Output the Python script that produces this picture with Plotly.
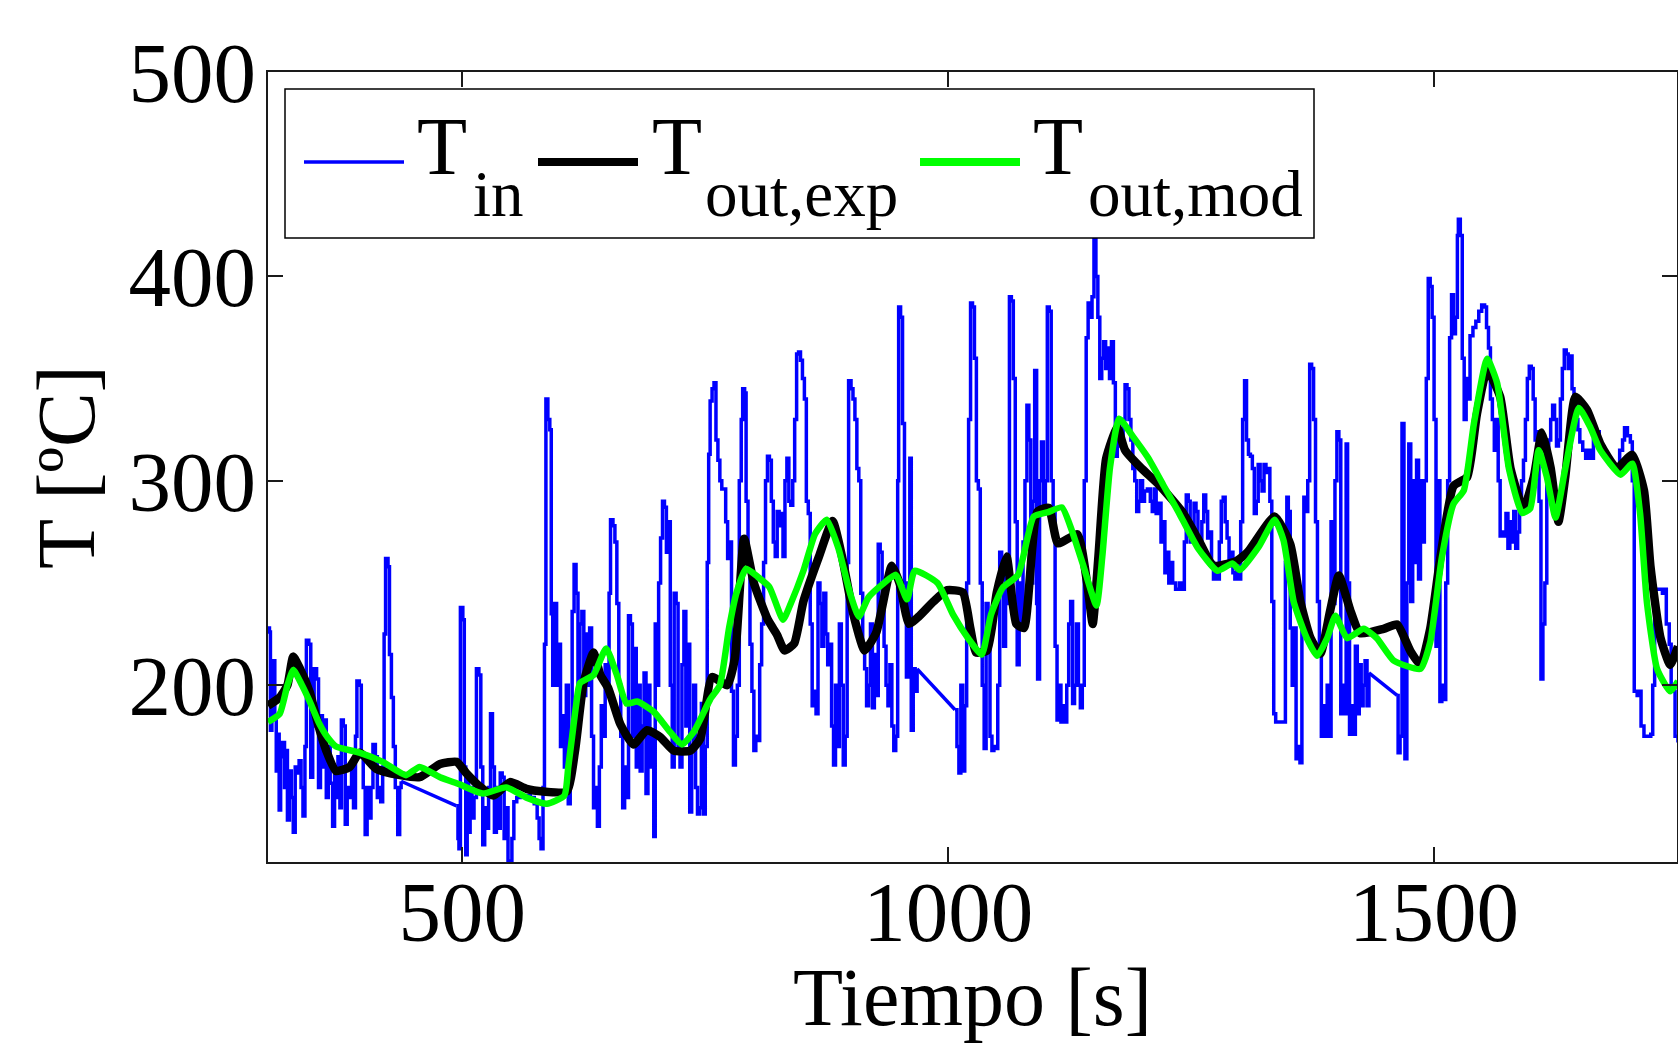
import plotly.graph_objects as go

# ---------------- data ----------------
# (time [s], temperature [ºC]) samples
t_in_samples = [
    (300, 228), (301.5, 226), (302.5, 178), (304, 205), (305.5, 212), (307, 185), (308.5, 158),
    (310, 176), (311.5, 139), (313, 165), (315, 172), (317, 150), (318.5, 168), (320, 134),
    (322, 158), (324, 145), (326, 128), (328, 160), (330, 157), (332, 163), (334, 150),
    (336, 136), (338, 170), (339.5, 222), (342, 220), (344, 155), (346, 180), (347.5, 208),
    (350, 203), (352, 150), (354, 185), (356, 160), (358, 183), (360, 145), (362, 170),
    (364, 152), (366.5, 131), (368.5, 160), (370, 145), (372, 165), (374, 140), (375.5, 183),
    (377.5, 180), (379.5, 132), (381.5, 150), (384, 145), (386, 160), (388, 140), (390, 175),
    (391.5, 202), (394, 200), (396, 165), (398, 150), (400, 127), (402, 150), (404, 135),
    (406, 150), (408, 171), (410.5, 165), (412.5, 145), (414.5, 150), (416, 143), (418, 160),
    (419.5, 225), (421, 262), (423.5, 258), (425, 215), (427, 194), (429, 170), (431, 150),
    (433.5, 127), (435.5, 150), (437, 153),
    (494, 141), (495.5, 125), (496.5, 120), (498, 238), (500.5, 232), (502, 160), (503.5, 117),
    (505, 155), (506.5, 128), (508, 150), (510, 135), (512, 145), (514.5, 208), (517, 205),
    (519, 160), (521, 122), (523, 140), (525, 130), (527, 150), (529, 186), (531, 160),
    (533, 128), (535, 150), (537, 130), (539, 157), (541, 155), (543, 125), (545, 140),
    (547, 114), (549, 113), (551, 125), (553, 143), (556, 145), (560, 146), (565, 146),
    (570, 145), (574, 142), (577, 135), (579, 125), (581, 120), (583, 150), (584.5, 220),
    (586, 340), (588, 330), (590, 325), (591.5, 235), (593, 200), (595, 240), (597, 200),
    (599, 220), (601, 170), (603, 185), (605, 160), (607, 200), (609, 142), (611, 175),
    (613, 236), (615, 259), (617, 245), (619, 200), (621, 230), (623, 236), (625, 195),
    (627, 225), (629, 200), (631, 228), (633, 175), (635, 140), (637, 150), (639, 131),
    (641, 160), (643, 190), (645, 175), (647, 210), (649, 200), (651, 245), (652.5, 281),
    (655, 278), (657, 270), (659, 240), (661, 200), (663, 175), (665, 140), (667, 160),
    (669, 145), (671, 234), (673, 230), (675, 175), (677, 218), (679, 160), (681, 200),
    (683, 158), (685, 180), (687, 206), (689, 147), (691, 200), (693, 160), (695, 175),
    (697, 126), (698.5, 230), (700, 200), (702, 250), (704, 272), (706, 290), (708, 287),
    (710, 265), (712, 280), (714, 200), (716, 160), (718, 245), (720, 240), (722, 170),
    (724, 160), (726, 210), (728, 236), (730, 180), (732, 220), (734, 138), (736, 170),
    (738, 200), (740, 150), (742, 137), (744, 140), (746, 191), (748, 137), (750, 170),
    (752, 260), (753.5, 313), (755, 339), (757, 345), (759, 348), (761, 320), (763, 310),
    (765, 300), (767, 296), (769, 296), (771, 280), (773, 262), (775, 270), (777, 197),
    (779, 161), (781, 175), (783, 200), (785, 300), (787, 330), (788.5, 345), (790.5, 343),
    (792, 290), (794, 260), (796, 220), (798, 197), (800, 168), (802, 175), (804, 173),
    (806, 210), (808, 230), (810, 260), (812, 300), (814, 312), (816, 310), (818, 290),
    (820, 270), (822, 263), (824, 285), (826, 278), (828, 284), (830, 263), (832, 300),
    (834, 311), (836, 290), (838, 288), (840, 300), (842, 330), (844, 362), (846, 363),
    (848, 359), (850, 350), (852, 340), (854, 290), (856, 284), (858, 230), (860, 190),
    (862, 197), (864, 186), (866, 250), (868, 240), (870, 219), (872, 245), (874, 225),
    (876, 210), (878, 220), (880, 180), (882, 161), (884, 200), (886, 170), (888, 230),
    (890, 200), (892, 161), (894, 175), (896, 260), (897.5, 349), (900, 345), (902, 340),
    (904, 330), (906, 306), (908, 300), (910, 245), (912, 219), (914, 208), (916, 190),
    (918, 200), (920, 230), (922, 189), (924, 215), (926, 195), (928, 269), (930, 265),
    (932, 240), (934, 219), (936, 200), (938, 190), (940, 210), (942, 180), (944, 168),
    (946, 175), (948, 300), (949, 385), (951, 380), (953, 328), (955, 250), (957, 204),
    (959, 250), (960.5, 311), (962, 178), (964, 208), (966, 197), (968, 208),
    (1007, 188), (1009, 170), (1011, 157), (1013, 200), (1015, 158), (1017, 190), (1019, 250),
    (1021, 330), (1023, 387), (1025, 385), (1027, 360), (1029, 300), (1031, 296), (1033, 250),
    (1035, 200), (1037, 169), (1039, 240), (1041, 220), (1043, 175), (1045, 168), (1047, 170),
    (1049, 169), (1051, 200), (1053, 265), (1055, 245), (1057, 219), (1059, 260), (1061, 240),
    (1063, 390), (1065, 388), (1067, 350), (1069, 280), (1071, 210), (1073, 250), (1075, 230),
    (1077, 270), (1079, 300), (1081, 337), (1083, 320), (1085, 250), (1087, 290), (1089, 354),
    (1091, 240), (1092, 203), (1094, 300), (1096, 319), (1098, 285), (1100, 300), (1102, 385),
    (1104, 383), (1106, 300), (1108, 285), (1110, 219), (1112, 183), (1114, 200), (1116, 182),
    (1118, 190), (1120, 182), (1122, 200), (1124, 230), (1126, 241), (1128, 191), (1130, 200),
    (1132, 230), (1134, 200), (1136, 189), (1138, 200), (1140, 300), (1142, 370), (1144, 387),
    (1146, 380), (1148, 390), (1150, 418), (1152, 400), (1154, 380), (1156, 350), (1158, 360),
    (1160, 368), (1162, 355), (1164, 365), (1166, 350), (1168, 368), (1170, 348), (1172, 312),
    (1174, 330), (1176, 317), (1178, 320), (1180, 330), (1182, 347), (1184, 345), (1186, 330),
    (1188, 320), (1190, 306), (1192, 300), (1194, 285), (1196, 290), (1198, 300), (1200, 290),
    (1202, 295), (1205, 296), (1208, 290), (1210, 285), (1212, 296), (1214, 284), (1217, 289),
    (1219, 270), (1221, 280), (1223, 255), (1225, 265), (1227, 250), (1229, 260), (1231, 250),
    (1234, 247), (1238, 250), (1241, 247), (1243, 270), (1245, 293), (1247, 290), (1249, 270),
    (1251, 275), (1253, 289), (1255, 285), (1257, 270), (1259, 265), (1261, 280), (1263, 293),
    (1265, 285), (1267, 272), (1269, 275), (1271, 260), (1273, 252), (1275, 255), (1277, 252),
    (1279, 270), (1281, 290), (1283, 292), (1285, 280), (1287, 272), (1289, 260), (1291, 265),
    (1293, 255), (1295, 252), (1297, 256), (1299, 252), (1301, 280), (1303, 330), (1305, 349),
    (1307, 320), (1309, 313), (1311, 312), (1313, 306), (1315, 284), (1317, 290), (1319, 308),
    (1321, 300), (1323, 295), (1325, 308), (1327, 304), (1329, 306), (1331, 290), (1333, 241),
    (1335, 186), (1337, 182), (1341, 182), (1345, 182), (1347, 260), (1348.5, 292), (1350, 285),
    (1352, 228), (1354, 200), (1356, 228), (1358, 164), (1360, 170), (1362, 162), (1364, 230),
    (1366, 292), (1368, 285), (1370, 300), (1372, 357), (1374, 355), (1376, 330), (1378, 280),
    (1380, 241), (1382, 219), (1384, 175), (1386, 190), (1388, 175), (1390, 200), (1392, 175),
    (1394, 280), (1396, 240), (1398, 300), (1400, 324), (1402, 320), (1404, 186), (1406, 200),
    (1408, 186), (1409.5, 318), (1411, 250), (1413, 176), (1415, 190), (1417, 176), (1419, 219),
    (1421, 186), (1423, 210), (1425, 190), (1427, 200), (1429, 212), (1431, 190), (1433, 206),
    (1462, 195), (1463, 167), (1465, 175), (1467, 328), (1469, 200), (1470, 164), (1472, 250),
    (1474, 318), (1476, 241), (1478, 300), (1480, 260), (1482, 310), (1484, 252), (1486, 300),
    (1488, 270), (1490, 300), (1492, 350), (1494, 399), (1496, 395), (1498, 380), (1500, 330),
    (1502, 219), (1504, 300), (1506, 192), (1508, 200), (1510, 193), (1512, 250), (1514, 300),
    (1516, 370), (1518, 391), (1520, 372), (1522, 380), (1524, 420), (1525, 428), (1527, 420),
    (1529, 360), (1531, 330), (1533, 350), (1535, 340), (1537, 371), (1540, 375), (1543, 378),
    (1546, 383), (1549, 386), (1552, 385), (1554, 375), (1556, 365), (1558, 340), (1560, 330),
    (1562, 315), (1564, 330), (1566, 300), (1568, 273), (1570, 275), (1572, 273), (1574, 284),
    (1576, 267), (1578, 280), (1580, 270), (1582, 285), (1584, 267), (1586, 275), (1588, 290),
    (1590, 300), (1592, 310), (1594, 330), (1596, 350), (1598, 356), (1600, 355), (1602, 340),
    (1604, 320), (1606, 324), (1608, 290), (1610, 203), (1612, 230), (1614, 250), (1616, 300),
    (1618, 320), (1620, 330), (1622, 337), (1624, 330), (1626, 317), (1628, 320), (1630, 340),
    (1632, 355), (1634, 364), (1636, 362), (1638, 355), (1640, 361), (1642, 345), (1644, 340),
    (1646, 330), (1648, 325), (1650, 319), (1653, 315), (1656, 311), (1659, 315), (1661, 311),
    (1664, 320), (1667, 324), (1670, 318), (1673, 315), (1676, 312), (1679, 310), (1682, 308),
    (1685, 306), (1688, 306), (1691, 315), (1694, 320), (1696, 326), (1699, 322), (1702, 319),
    (1704, 300), (1706, 197), (1709, 195), (1711, 197), (1713, 180), (1716, 175), (1720, 175),
    (1723, 176), (1725, 200), (1727, 247), (1731, 247), (1735, 245), (1737, 247), (1739, 230),
    (1742, 220), (1744, 200), (1746, 197), (1748, 175), (1751, 172),
]

t_out_exp_samples = [
    (300, 190), (312, 194), (320, 200), (326, 214), (333, 208), (343, 196.5), (352, 180),
    (360, 168), (370, 158), (384, 160), (394.5, 167), (411.7, 159), (436, 156), (456, 155),
    (477, 161.4), (494, 162.5), (504, 157), (518, 150.4), (532, 146), (549, 152.6),
    (566, 149.3), (583.5, 148), (607.5, 148), (616, 168), (624.7, 201), (635, 216), (642, 205),
    (650, 198.7), (662.5, 181), (676, 171), (690, 178), (703.7, 174.6), (717.5, 168),
    (734.6, 168), (745, 174), (757, 204), (772.6, 200), (780.4, 213), (790, 271.6), (800, 250),
    (814, 232.4), (823.8, 224.7), (831.6, 217), (841.5, 220.4), (851, 241), (867, 263),
    (881, 280.3), (890.7, 263), (902.5, 234.5), (914, 217), (926, 225.8), (942, 258.5),
    (950, 249.8), (959.7, 230), (969.5, 233.5), (985, 241), (999, 246.5), (1015, 245.4),
    (1022.7, 228), (1028.6, 216), (1040, 217), (1050, 245.4), (1060, 263), (1070, 230),
    (1078, 228), (1091.6, 284.7), (1103.4, 286.8), (1113, 269.4), (1133, 273.8), (1143, 249.8),
    (1148.7, 230), (1154.6, 263), (1162.5, 310.8), (1174, 326), (1182, 315), (1198, 306.5),
    (1217.6, 297.7), (1241, 284.7), (1257, 271.6), (1272.8, 258.5), (1296.4, 260.7),
    (1308, 265), (1335.8, 282.5), (1352, 269), (1362.5, 240.7), (1372.7, 223.2),
    (1383, 215.5), (1393, 236.3), (1402, 253.7), (1414, 236.3), (1424, 225.4), (1448, 227.6),
    (1462, 229.7), (1475.7, 216.6), (1486, 210), (1496, 227.6), (1506.5, 262.5),
    (1520, 297.4), (1534, 301.8), (1544, 332.4), (1554.6, 354.2), (1568, 341.1),
    (1578.6, 306.2), (1592, 286.5), (1602.6, 301.8), (1611, 323.6), (1620, 306.2),
    (1628, 280), (1635, 301.8), (1645.5, 341.1), (1657.5, 334.6), (1671, 318.2),
    (1688, 306.2), (1703.8, 312.7), (1716, 295.3), (1722.7, 258.1), (1733, 223.2),
    (1743, 210), (1751, 219),
]

t_out_mod_samples = [
    (300, 182), (312, 186), (320, 200), (326, 207.5), (335, 200), (343, 192), (353, 181),
    (362, 174), (370, 170), (394, 167), (418, 162.5), (442, 156), (456, 160), (477, 155),
    (497, 151.5), (521, 147), (545, 150), (566, 145), (587, 142), (605, 146), (609, 160),
    (613, 175), (617, 190), (621, 201), (635, 205), (648, 218), (659, 205), (669, 191),
    (680, 192), (697, 187), (714, 177), (726, 171), (738, 177), (755, 193), (765, 200),
    (774.5, 228), (782, 245), (792, 257), (804, 253), (816, 248), (830, 232), (838, 240),
    (851, 256), (863, 274), (875, 281), (887, 267), (899, 245), (908, 233.5), (918, 243),
    (934, 250), (946, 254), (957.7, 242), (965.6, 256), (989, 250), (1005, 234.5),
    (1021, 222.6), (1034.5, 215), (1044, 234.5), (1056, 247.6), (1072, 254), (1088, 282.5),
    (1103, 284.7), (1117, 287), (1127, 276), (1139, 258.5), (1152.6, 239), (1158.6, 263),
    (1166.5, 306.5), (1176, 330.4), (1190, 321.7), (1206, 311), (1221.6, 297.7),
    (1237, 284.7), (1257, 267), (1277, 256), (1292.5, 259.6), (1300, 256.3), (1320, 268),
    (1336, 281), (1345, 271), (1355.6, 240.7), (1369, 223), (1379.6, 214.4), (1390, 223),
    (1398.5, 234), (1410.5, 223), (1427.6, 227.6), (1441, 223), (1458.5, 212), (1486, 208),
    (1496, 221), (1508, 262.5), (1520, 288.7), (1530.6, 295.3), (1541, 328), (1554.6, 359.7),
    (1565, 347.7), (1577, 306), (1590.6, 284.3), (1599, 286.5), (1607.7, 315), (1616, 302),
    (1625, 282), (1635, 306), (1649, 335.6), (1661, 326), (1671, 315), (1692, 303),
    (1704, 308.4), (1712, 284), (1719, 240.7), (1729.5, 208), (1743, 197), (1751, 202),
]

series_main = ["T", "T", "T"]
series_subs = ["in", "out,exp", "out,mod"]
series_colors = ["#0000ff", "#000000", "#00ff00"]
x_tick_values = [500, 1000, 1500]
y_tick_values = [200, 300, 400, 500]
x_range = [300, 1750]
y_range = [113.5, 500]
x_title = "Tiempo [s]"
y_title = "T [ºC]"
GAP_SECONDS = 20  # sparse stretches of T_in are drawn as straight bridges

# ---------------- layout constants (pixels) ----------------
FONT = "Liberation Serif, Times New Roman, serif"
W, H = 1678, 1043
ML, MR, MT, MB = 268, 1, 72, 181
PW, PH = W - ML - MR, H - MT - MB


def px(x):  # page pixel -> paper x
    return (x - ML) / PW


def py(y):  # page pixel -> paper y
    return (H - MB - y) / PH


def split(samples):
    return [p[0] for p in samples], [p[1] for p in samples]


# T_in: stair-step line, with straight bridges across the sparse stretches
in_x, in_y, bridge_x, bridge_y = [], [], [], []
for i, (t, v) in enumerate(t_in_samples):
    if i > 0 and t - t_in_samples[i - 1][0] > GAP_SECONDS:
        pt, pv = t_in_samples[i - 1]
        in_x.append(None)
        in_y.append(None)
        bridge_x += [pt, t, None]
        bridge_y += [pv, v, None]
    in_x.append(t)
    in_y.append(v)

line_widths = [3.5, 8.5, 6.5]

fig = go.Figure()
fig.add_trace(go.Scatter(x=in_x, y=in_y, mode="lines", name="T_in",
                         line=dict(color=series_colors[0], width=line_widths[0], shape="hv"),
                         connectgaps=False, hoverinfo="skip", showlegend=False))
fig.add_trace(go.Scatter(x=bridge_x, y=bridge_y, mode="lines", showlegend=False,
                         line=dict(color=series_colors[0], width=line_widths[0]),
                         hoverinfo="skip"))
xe, ye = split(t_out_exp_samples)
fig.add_trace(go.Scatter(x=xe, y=ye, mode="lines", name="T_out,exp", showlegend=False,
                         line=dict(color=series_colors[1], width=line_widths[1],
                                   shape="spline", smoothing=0.5),
                         hoverinfo="skip"))
xm, ym = split(t_out_mod_samples)
fig.add_trace(go.Scatter(x=xm, y=ym, mode="lines", name="T_out,mod", showlegend=False,
                         line=dict(color=series_colors[2], width=line_widths[2],
                                   shape="spline", smoothing=0.5),
                         hoverinfo="skip"))

# ---------------- legend box (drawn like the original) ----------------
fig.add_shape(type="rect", xref="paper", yref="paper",
              x0=px(285), x1=px(1314), y0=py(238), y1=py(89),
              line=dict(color="black", width=1.5), fillcolor="white", layer="above")
legend_line_x = [304, 538, 920]
legend_T_x = [415, 650, 1031]
legend_sub_x = [471, 703, 1086]
legend_widths = [3.5, 8, 8]
for i in range(3):
    fig.add_shape(type="line", xref="paper", yref="paper",
                  x0=px(legend_line_x[i]), x1=px(legend_line_x[i] + 100),
                  y0=py(162), y1=py(162),
                  line=dict(color=series_colors[i], width=legend_widths[i]), layer="above")
    fig.add_annotation(xref="paper", yref="paper", x=px(legend_T_x[i]), y=py(147),
                       text=series_main[i], showarrow=False, xanchor="left", yanchor="middle",
                       font=dict(family=FONT, size=82, color="black"))
    fig.add_annotation(xref="paper", yref="paper", x=px(legend_sub_x[i]), y=py(194),
                       text=series_subs[i], showarrow=False, xanchor="left", yanchor="middle",
                       font=dict(family=FONT, size=65, color="black"))

axis_common = dict(
    showgrid=False, zeroline=False, showline=True, linecolor="#1a1a1a", linewidth=2,
    mirror="ticks", ticks="inside", ticklen=15, tickwidth=1.5, tickcolor="#1a1a1a",
    tickfont=dict(family=FONT, size=85, color="black"),
)

fig.update_layout(
    width=W, height=H,
    margin=dict(l=ML, r=MR, t=MT, b=MB, autoexpand=False),
    paper_bgcolor="white", plot_bgcolor="white",
    font=dict(family=FONT, color="black"),
    showlegend=False,
    xaxis=dict(range=x_range, tickvals=x_tick_values, ticklabelstandoff=-25,
               title=dict(text=x_title, font=dict(family=FONT, size=82, color="black"), standoff=17),
               **axis_common),
    yaxis=dict(range=y_range, tickvals=y_tick_values, ticklabelstandoff=-7,
               title=dict(text=y_title, font=dict(family=FONT, size=82, color="black"), standoff=7),
               **axis_common),
)

fig.write_html("out.html", config={"displayModeBar": False},
               post_script="document.body.style.margin='0px';document.body.style.overflow='hidden';")
